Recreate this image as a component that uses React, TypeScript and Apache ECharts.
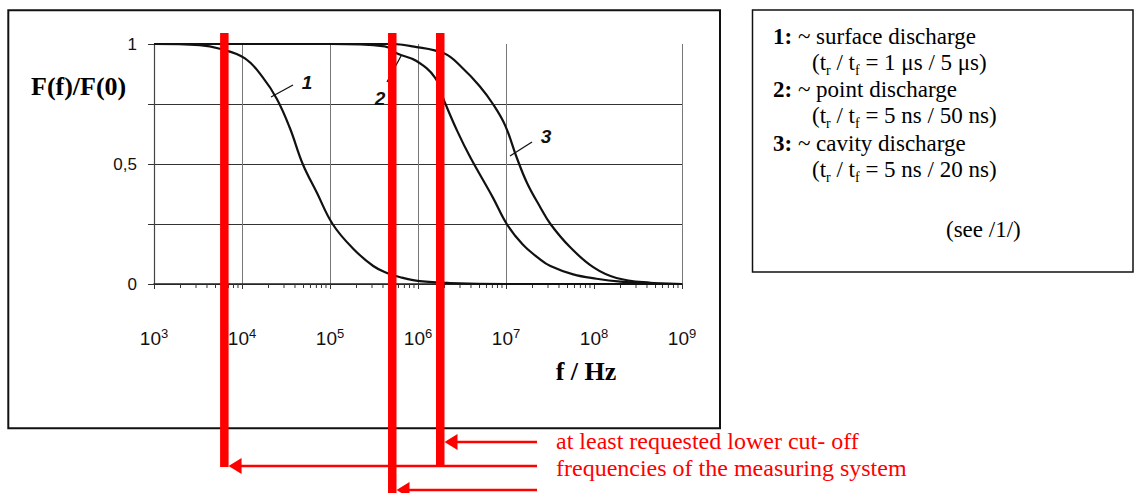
import React, { useEffect, useRef } from "react";
import * as echarts from "echarts";

// ---- data ----
const curve1Freq = [1e3, 3.3e3, 5.6e3, 1.08e4, 1.73e4, 2.5e4, 3.5e4, 4.9e4, 7.1e4, 1.07e5, 1.8e5, 3.1e5, 4.5e5, 6.3e5, 1.05e6, 2.3e6, 1e7, 1e9];
const curve1Value = [1, 0.995, 0.98, 0.94, 0.86, 0.77, 0.65, 0.5, 0.38, 0.25, 0.15, 0.075, 0.045, 0.028, 0.012, 0.004, 0, 0];

const curve2Freq = [1e3, 1e5, 4.2e5, 5.8e5, 9.5e5, 1.56e6, 2.0e6, 2.77e6, 3.9e6, 7.1e6, 1.02e7, 1.55e7, 2.4e7, 3.2e7, 5.8e7, 1.07e8, 2e8, 4.4e8, 1e9];
const curve2Value = [1, 1, 0.99, 0.96, 0.93, 0.86, 0.76, 0.64, 0.53, 0.36, 0.25, 0.165, 0.105, 0.075, 0.04, 0.022, 0.01, 0.003, 0];

const curve3Freq = [1e3, 5e5, 8.7e5, 2.0e6, 3.2e6, 5e6, 7.1e6, 9.8e6, 1.33e7, 1.74e7, 2.45e7, 3.2e7, 5.3e7, 9.8e7, 1.8e8, 4.4e8, 1e9];
const curve3Value = [1, 1, 0.99, 0.96, 0.9, 0.825, 0.75, 0.66, 0.525, 0.42, 0.32, 0.25, 0.155, 0.07, 0.025, 0.005, 0];

// requested lower cut-off frequencies (red bars)
const cutoffFreqs = [6.3e3, 5.1e5, 1.79e6];

// axis ticks
const minorDecades = [1e3, 1e4, 1e5, 1e6, 1e7, 1e8];
const minorMultipliers = [2, 3, 4, 5, 6, 7, 8, 9];
const yTickLabels: Record<string, string> = { "0": "0", "0.5": "0,5", "1": "1" };

// texts
const yAxisTitle = "F(f)/F(0)";
const xAxisTitle = "f / Hz";
const legendLines = [
  "{b|1:} ~ surface discharge",
  "(t{s|r} / t{s|f} = 1 μs / 5 μs)",
  "{b|2:} ~ point discharge",
  "(t{s|r} / t{s|f} = 5 ns / 50 ns)",
  "{b|3:} ~ cavity discharge",
  "(t{s|r} / t{s|f} = 5 ns / 20 ns)",
];
const legendNote = "(see /1/)";
const noteLines = ["at least requested lower cut- off", "frequencies of the measuring system"];

const SERIF = "Liberation Serif";
const SANS = "Liberation Sans";

export default function App() {
  const ref = useRef<HTMLDivElement>(null);
  useEffect(() => {
    const chart = echarts.init(ref.current!, null, { renderer: "svg" });

    const minorData: number[][] = [];
    minorDecades.forEach((d) => minorMultipliers.forEach((m) => minorData.push([m * d, 0])));

    const curveStyle = { color: "#111", width: 2.2 };
    const mk = (f: number[], v: number[]) => f.map((x, i) => [x, v[i]]);

    chart.setOption({
      animation: false,
      backgroundColor: "#fff",
      grid: { left: 154, right: 454, top: 44, bottom: 209 },
      xAxis: {
        type: "log",
        logBase: 10,
        min: 1e3,
        max: 1e9,
        splitNumber: 6,
        axisLine: { show: true, lineStyle: { color: "#222", width: 1.5 } },
        axisTick: { show: true, length: 5, lineStyle: { color: "#333" } },
        axisLabel: {
          margin: 43,
          formatter: (v: number) => `{b|10}{s|${Math.round(Math.log10(v))}}`,
          rich: {
            b: { fontSize: 19, fontFamily: SANS, color: "#111", lineHeight: 21, verticalAlign: "bottom" },
            s: { fontSize: 13, fontFamily: SANS, color: "#111", lineHeight: 13, verticalAlign: "top" },
          },
        },
        splitLine: {
          show: true,
          lineStyle: { color: ["#777", "#777", "#777", "#777", "#777", "#777", "rgba(0,0,0,0)"], width: 1 },
        },
      },
      yAxis: {
        type: "value",
        min: 0,
        max: 1,
        interval: 0.25,
        axisLine: { show: true, lineStyle: { color: "#444", width: 1.2 } },
        axisTick: { show: true, length: 6, lineStyle: { color: "#333" } },
        axisLabel: {
          margin: 17,
          fontSize: 17,
          fontFamily: SANS,
          color: "#111",
          formatter: (v: number) => yTickLabels[String(v)] ?? "",
        },
        splitLine: {
          show: true,
          lineStyle: { color: ["#333", "#333", "#333", "#333", "rgba(0,0,0,0)"], width: 1 },
        },
      },
      series: [
        { type: "line", data: mk(curve1Freq, curve1Value), smooth: 0.4, symbol: "none", lineStyle: curveStyle },
        { type: "line", data: mk(curve2Freq, curve2Value), smooth: 0.4, symbol: "none", lineStyle: curveStyle },
        { type: "line", data: mk(curve3Freq, curve3Value), smooth: 0.4, symbol: "none", lineStyle: curveStyle },
        {
          type: "custom",
          data: minorData,
          silent: true,
          renderItem: (_p: any, api: any) => {
            const p = api.coord([api.value(0), 0]);
            return {
              type: "line",
              shape: { x1: p[0], y1: p[1], x2: p[0], y2: p[1] + 4 },
              style: { stroke: "#333", lineWidth: 1 },
            };
          },
        },
      ],
    });

    const px = (f: number) => chart.convertToPixel({ xAxisIndex: 0 }, f) as unknown as number;
    const [xa, xb, xc] = cutoffFreqs.map(px);
    const barW = 8.5;
    const red = "#ff0000";
    const arrowEnd = 537;

    const g: any[] = [];
    // frames
    g.push({ type: "rect", z: 1, shape: { x: 8.3, y: 10.2, width: 711.7, height: 418 }, style: { fill: "none", stroke: "#111", lineWidth: 2 } });
    g.push({ type: "rect", z: 1, shape: { x: 752.5, y: 10, width: 380.5, height: 262 }, style: { fill: "none", stroke: "#111", lineWidth: 1.5 } });

    // axis titles
    g.push({ type: "text", z: 5, x: 31, y: 86, style: { text: yAxisTitle, fontFamily: SERIF, fontWeight: "bold", fontSize: 26, fill: "#000", verticalAlign: "middle" } });
    g.push({ type: "text", z: 5, x: 586, y: 371, style: { text: xAxisTitle, fontFamily: SERIF, fontWeight: "bold", fontSize: 26, fill: "#000", align: "center", verticalAlign: "middle" } });

    // curve labels with leader lines
    const lbl = (t: string, x: number, y: number) =>
      g.push({ type: "text", z: 5, x, y, style: { text: t, fontFamily: SANS, fontWeight: "bold", fontStyle: "italic", fontSize: 19, fill: "#111", align: "center", verticalAlign: "middle" } });
    lbl("1", 307, 82);
    lbl("2", 380, 98);
    lbl("3", 546, 136);
    const leader = (x1: number, y1: number, x2: number, y2: number) =>
      g.push({ type: "line", z: 5, shape: { x1, y1, x2, y2 }, style: { stroke: "#111", lineWidth: 1.3 } });
    leader(271, 97, 293, 85);
    leader(387, 82, 401, 56);
    leader(510, 156, 532, 142);

    // legend box texts
    const legendY = [36, 62, 89, 115, 143, 169];
    legendLines.forEach((t, i) => {
      g.push({
        type: "text",
        z: 5,
        x: i % 2 === 0 ? 773 : 812,
        y: legendY[i],
        style: {
          text: t,
          fontFamily: SERIF,
          fontSize: 23,
          fill: "#000",
          verticalAlign: "middle",
          lineHeight: 30,
          rich: {
            b: { fontFamily: SERIF, fontSize: 23, fontWeight: "bold", fill: "#000", lineHeight: 30 },
            s: { fontFamily: SERIF, fontSize: 14, fill: "#000", lineHeight: 14, verticalAlign: "bottom" },
          },
        },
      });
    });
    g.push({ type: "text", z: 5, x: 946, y: 229, style: { text: legendNote, fontFamily: SERIF, fontSize: 23, fill: "#000", verticalAlign: "middle" } });

    // red bars
    const bar = (xm: number, bottom: number) =>
      g.push({ type: "rect", z: 50, shape: { x: xm - barW / 2, y: 33, width: barW, height: bottom - 33 }, style: { fill: red } });
    bar(xa, 467);
    bar(xb, 493);
    bar(xc, 466);

    // arrows
    const arrow = (tip: number, y: number) => {
      g.push({ type: "line", z: 50, shape: { x1: tip + 8, y1: y, x2: arrowEnd, y2: y }, style: { stroke: red, lineWidth: 2.5 } });
      g.push({ type: "polygon", z: 50, shape: { points: [[tip, y], [tip + 13, y - 8], [tip + 13, y + 8]] }, style: { fill: red } });
    };
    arrow(xc + barW / 2, 442);
    arrow(xa + barW / 2, 466);
    arrow(xb + barW / 2, 490);

    // red notes
    noteLines.forEach((t, i) => {
      g.push({ type: "text", z: 50, x: 556, y: 441 + i * 27, style: { text: t, fontFamily: SERIF, fontSize: 24, fill: red, verticalAlign: "middle" } });
    });

    chart.setOption({ graphic: g });
    return () => chart.dispose();
  }, []);
  return <div ref={ref} style={{ position: "absolute", left: 0, top: 0, width: 1136, height: 493, background: "#fff" }} />;
}
